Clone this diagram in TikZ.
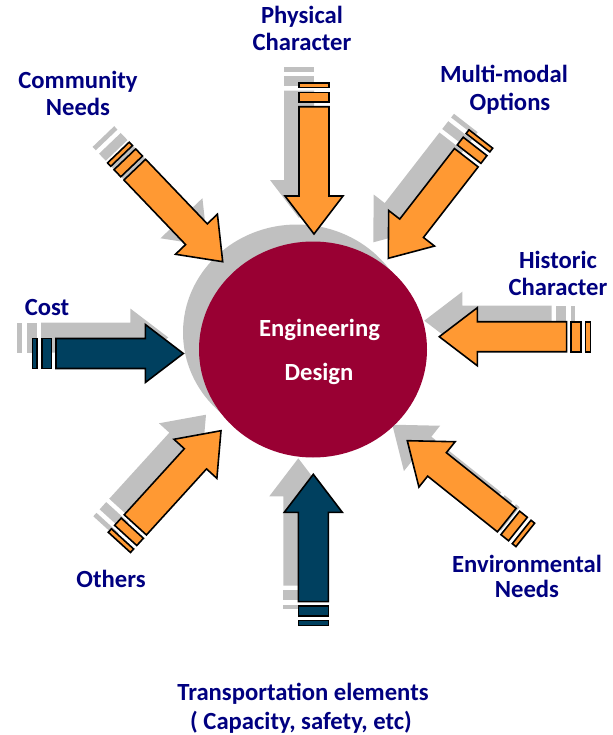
\documentclass[tikz,border=0pt]{standalone}
\usepackage{fontspec}
\setmainfont{Carlito}
\usetikzlibrary{calc}
\definecolor{arroworange}{HTML}{FF9933}
\definecolor{arrowblue}{HTML}{00405F}
\definecolor{designred}{HTML}{990033}
\definecolor{labelblue}{HTML}{000080}
\definecolor{shadowgray}{HTML}{C0C0C0}

\tikzset{every picture/.style={line width=0.75pt}}
\tikzset{
  lbl/.style={text=labelblue, font=\bfseries\fontsize{18.5}{19.5}\selectfont, inner sep=0pt, anchor=base},
  inlbl/.style={lbl, text=white},
  shadowfill/.style={fill=shadowgray},
  orangefill/.style={draw=black, line width=1.2pt, fill=arroworange},
  bluefill/.style={draw=black, line width=1.2pt, fill=arrowblue},
  pics/inarrow/.style={code={
    \path[#1] (-151,-15) rectangle (-146.3,15);
    \path[#1] (-141.6,-15) rectangle (-131.8,15);
    \path[#1] (-127.3,-15) -- (-38,-15) -- (-38,-29) -- (0,0) -- (-38,29) -- (-38,15) -- (-127.3,15) -- cycle;
  }}
}

\begin{document}
\begin{tikzpicture}[x=0.75pt,y=0.75pt,yscale=-1,xscale=1]
\useasboundingbox (0,0) rectangle (613,735);

% arrow tips
\coordinate (tipPhys) at (314,234);
\coordinate (tipComm) at (222.7,261.7);
\coordinate (tipMulti) at (388.3,258.3);
\coordinate (tipHist) at (439.3,336.7);
\coordinate (tipEnv) at (407.3,440.7);
\coordinate (tipTrans) at (313.3,474.3);
\coordinate (tipOth) at (221,430.7);
\coordinate (tipCost) at (183.3,353.5);
\coordinate (designC) at (313,349.5);

% Shadows
\pic[rotate=-90] at ($(tipPhys)+(-15,-16)$) {inarrow=shadowfill};
\pic[rotate=-46.3] at ($(tipComm)+(-15,-16)$) {inarrow=shadowfill};
\pic[rotate=-127.8] at ($(tipMulti)+(-15,-16)$) {inarrow=shadowfill};
\pic[rotate=180] at ($(tipHist)+(-15,-16)$) {inarrow=shadowfill};
\pic[rotate=-218.6] at ($(tipEnv)+(-15,-16)$) {inarrow=shadowfill};
\pic[rotate=90] at ($(tipTrans)+(-15,-16)$) {inarrow=shadowfill};
\pic[rotate=47.7] at ($(tipOth)+(-15,-16)$) {inarrow=shadowfill};
\pic[rotate=0] at ($(tipCost)+(-15,-16)$) {inarrow=shadowfill};

%Shape: Ellipse [Engineering Design]
\fill[shadowgray] ($(designC)+(-16,-17)$) ellipse [x radius=114, y radius=108];
\fill[designred] (designC) ellipse [x radius=114, y radius=108];

% Arrows
\pic[rotate=-90] at (tipPhys) {inarrow=orangefill};
\pic[rotate=-46.3] at (tipComm) {inarrow=orangefill};
\pic[rotate=-127.8] at (tipMulti) {inarrow=orangefill};
\pic[rotate=180] at (tipHist) {inarrow=orangefill};
\pic[rotate=-218.6] at (tipEnv) {inarrow=orangefill};
\pic[rotate=90] at (tipTrans) {inarrow=bluefill};
\pic[rotate=47.7] at (tipOth) {inarrow=orangefill};
\pic[rotate=0] at (tipCost) {inarrow=bluefill};

% Text Node
\node[inlbl] (engA) at (319.5,336.7) {Engineering};
\node[inlbl] (engB) at (319,380) {Design};
% Text Node
\node[lbl] (physA) at (302,24) {Physical};
\node[lbl] (physB) at (302,51) {Character};
% Text Node
\node[lbl] (commA) at (78,89) {Community};
\node[lbl] (commB) at (78,115) {Needs};
% Text Node
\node[lbl] (multiA) at (504,83) {Multi-modal};
\node[lbl] (multiB) at (510,110) {Options};
% Text Node
\node[lbl] (histA) at (558,268) {Historic};
\node[lbl] (histB) at (558,295) {Character};
% Text Node
\node[lbl] (cost) at (47,315) {Cost};
% Text Node
\node[lbl] (oth) at (111,587) {Others};
% Text Node
\node[lbl] (envA) at (527,572) {Environmental};
\node[lbl] (envB) at (527,597) {Needs};
% Text Node
\node[lbl] (transA) at (303,700) {Transportation elements};
\node[lbl] (transB) at (301,729) {( Capacity, safety, etc)};

\end{tikzpicture}
\end{document}
